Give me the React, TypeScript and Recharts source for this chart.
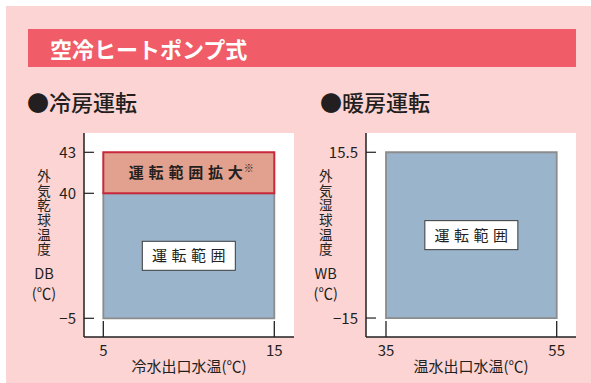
import React from 'react';
import { ComposedChart, XAxis, YAxis, CartesianGrid, ReferenceArea, Scatter } from 'recharts';

// 空冷ヒートポンプ式 運転範囲図

const FONT = '"Noto Sans CJK JP", "Noto Sans", sans-serif';
const INK = '#231f20';
const PINK = '#fcd4d4';
const HEADER = '#f05d69';
const BLUE = '#9ab4cb';
const SALMON = '#e2a08e';
const RED = '#c8283c';
const EDGE = '#8c8c8c';

// 冷房運転
const coolWaterRange = [5, 15]; // 冷水出口水温
const coolAirRange = [-5, 40]; // 外気乾球温度 DB
const coolAirExtended = [40, 43]; // 運転範囲拡大
const coolXTicks = [5, 15];
const coolYTicks = [-5, 40, 43];

// 暖房運転
const heatWaterRange = [35, 55]; // 温水出口水温
const heatAirRange = [-15, 15.5]; // 外気湿球温度 WB
const heatXTicks = [35, 55];
const heatYTicks = [-15, 15.5];

const fmt = (v: number) => (v < 0 ? `−${Math.abs(v)}` : `${v}`);

const corners = (xs: number[], ys: number[]) => [
  { x: xs[0], y: ys[0] },
  { x: xs[1], y: ys[1] },
];

// the cooling chart has a broken y axis: 40→43 is stretched compared to -5→40
function brokenScale(knots: number[], stops: number[], range: number[] = [0, 1]): any {
  const n = knots.length;
  const frac = (v: number) => {
    let i = 0;
    while (i < n - 2 && v > knots[i + 1]) i++;
    return stops[i] + ((v - knots[i]) / (knots[i + 1] - knots[i])) * (stops[i + 1] - stops[i]);
  };
  const value = (f: number) => {
    let i = 0;
    while (i < n - 2 && f > stops[i + 1]) i++;
    return knots[i] + ((f - stops[i]) / (stops[i + 1] - stops[i])) * (knots[i + 1] - knots[i]);
  };
  const s: any = (v: number) => range[0] + frac(v) * (range[1] - range[0]);
  s.domain = (d?: number[]) => (d === undefined ? [value(0), value(1)] : s);
  s.range = (r?: number[]) => {
    if (r === undefined) return range;
    range = r;
    return s;
  };
  s.copy = () => brokenScale(knots, stops, range.slice());
  s.ticks = () => knots;
  s.invert = (px: number) => value((px - range[0]) / (range[1] - range[0]));
  return s;
}

const coolYScale = brokenScale(coolYTicks, [0.0917, 0.7044, 0.9054]);

const XTick = (props: any) => {
  const { x, y, payload } = props;
  return (
    <g>
      <line x1={x} y1={y} x2={x} y2={y - 16} stroke={INK} strokeWidth={1.3} />
      <text x={x} y={y + 18.5} textAnchor="middle" fontSize={15} fill={INK} fontFamily={FONT}>
        {fmt(payload.value)}
      </text>
    </g>
  );
};

const YTick = (props: any) => {
  const { x, y, payload } = props;
  return (
    <g>
      <line x1={x} y1={y} x2={x + 10} y2={y} stroke={INK} strokeWidth={1.2} />
      <text x={x - 8} y={y + 5.5} textAnchor="end" fontSize={15} fill={INK} fontFamily={FONT}>
        {fmt(payload.value)}
      </text>
    </g>
  );
};

const BoxLabel = (props: any) => {
  const { x, y, width, height } = props.viewBox;
  const cx = x + width / 2;
  const cy = y + height / 2;
  return (
    <g>
      <rect x={cx - 46.5} y={cy - 14.5} width={93} height={29} fill="#fff" stroke="#3a3a3a" strokeWidth={1} />
      <text x={cx + 2.25} y={cy + 5.5} textAnchor="middle" fontSize={15} letterSpacing={4.5} fill={INK} fontFamily={FONT}>
        運転範囲
      </text>
    </g>
  );
};

const ExtLabel = (props: any) => {
  const { x, y, width, height } = props.viewBox;
  const cx = x + width / 2;
  const cy = y + height / 2;
  return (
    <g fontFamily={FONT} fill={INK}>
      <text x={cx - 60} y={cy + 5.5} fontSize={15} fontWeight="bold">
        <tspan letterSpacing={4.8}>運転範囲拡</tspan>
        <tspan letterSpacing={0}>大</tspan>
      </text>
      <text x={cx + 55} y={cy - 0.5} fontSize={10}>
        ※
      </text>
    </g>
  );
};

function RangeChart({ left, data, xDomain, yDomain, yScale, xTicks, yTicks, xTitle, children }: any) {
  return (
    <div style={{ position: 'absolute', left, top: 120 }}>
      <ComposedChart width={260} height={263} data={data} margin={{ top: 13, right: 6, bottom: 0, left: 0 }}>
        <CartesianGrid fill="#fff" stroke="none" horizontal={false} vertical={false} />
        <XAxis
          type="number"
          dataKey="x"
          domain={xDomain}
          allowDataOverflow
          ticks={xTicks}
          interval={0}
          height={46}
          tickSize={0}
          tickMargin={0}
          tickLine={false}
          axisLine={{ stroke: INK, strokeWidth: 1.5 }}
          tick={<XTick />}
          label={{ value: xTitle, position: 'insideBottom', offset: 10.6, fontSize: 15, fill: INK, fontFamily: FONT }}
        />
        <YAxis
          type="number"
          dataKey="y"
          domain={yDomain}
          scale={yScale}
          allowDataOverflow
          ticks={yTicks}
          interval={0}
          width={44}
          tickSize={0}
          tickMargin={0}
          tickLine={false}
          axisLine={{ stroke: INK, strokeWidth: 1.5 }}
          tick={<YTick />}
        />
        <Scatter dataKey="y" shape={() => <g />} isAnimationActive={false} />
        {children}
      </ComposedChart>
    </div>
  );
}

// vertical axis title: 外気○球温度 written top to bottom, then the unit
function YTitle({ cx, title, unit }: { cx: number; title: string; unit: string }) {
  const base: React.CSSProperties = { position: 'absolute', textAlign: 'center', color: INK };
  return (
    <>
      <div
        style={{
          ...base, left: cx - 10, width: 20, top: 169, fontSize: 13.5, lineHeight: '20px',
          writingMode: 'vertical-rl', textOrientation: 'upright', letterSpacing: 1.2,
        }}
      >
        {title}
      </div>
      <div style={{ ...base, left: cx - 20, width: 40, top: 264, fontSize: 14.5, lineHeight: '18px' }}>{unit}</div>
      <div style={{ ...base, left: cx - 20, width: 40, top: 283, fontSize: 14.5, lineHeight: '19px' }}>(℃)</div>
    </>
  );
}

export default function App() {
  return (
    <div style={{ position: 'absolute', left: 0, top: 0, width: 591, height: 383, background: '#fff', overflow: 'hidden', fontFamily: FONT }}>
      <div style={{ position: 'absolute', left: 6, top: 6, right: 0, bottom: 0, background: PINK }} />
      <div
        style={{
          position: 'absolute', left: 28, top: 29, width: 548, height: 38, background: HEADER,
          color: '#fff', fontWeight: 'bold', fontSize: 22, lineHeight: '38px', paddingLeft: 22, boxSizing: 'border-box',
        }}
      >
        空冷ヒートポンプ式
      </div>
      <div style={{ position: 'absolute', left: 27, top: 89, fontSize: 22, lineHeight: '24px', fontWeight: 500, color: INK }}>●冷房運転</div>
      <div style={{ position: 'absolute', left: 320, top: 89, fontSize: 22, lineHeight: '24px', fontWeight: 500, color: INK }}>●暖房運転</div>

      <YTitle cx={44} title="外気乾球温度" unit="DB" />
      <YTitle cx={325.7} title="外気湿球温度" unit="WB" />

      <RangeChart
        left={40}
        data={corners(coolWaterRange, coolAirRange)}
        xDomain={[3.871, 16.152]}
        yDomain={coolYScale.domain()}
        yScale={coolYScale}
        xTicks={coolXTicks}
        yTicks={coolYTicks}
        xTitle="冷水出口水温(℃)"
      >
        <ReferenceArea
          x1={coolWaterRange[0]} x2={coolWaterRange[1]} y1={coolAirRange[0]} y2={coolAirRange[1]}
          fill={BLUE} fillOpacity={1} stroke={EDGE} strokeWidth={1.8} ifOverflow="visible"
          label={<BoxLabel />}
        />
        <ReferenceArea
          x1={coolWaterRange[0]} x2={coolWaterRange[1]} y1={coolAirExtended[0]} y2={coolAirExtended[1]}
          fill={SALMON} fillOpacity={1} stroke={RED} strokeWidth={2} ifOverflow="visible"
          label={<ExtLabel />}
        />
      </RangeChart>

      <RangeChart
        left={322}
        data={corners(heatWaterRange, heatAirRange)}
        xDomain={[32.657, 57.261]}
        yDomain={[-18.49, 19.046]}
        yScale="linear"
        xTicks={heatXTicks}
        yTicks={heatYTicks}
        xTitle="温水出口水温(℃)"
      >
        <ReferenceArea
          x1={heatWaterRange[0]} x2={heatWaterRange[1]} y1={heatAirRange[0]} y2={heatAirRange[1]}
          fill={BLUE} fillOpacity={1} stroke={EDGE} strokeWidth={1.8} ifOverflow="visible"
          label={<BoxLabel />}
        />
      </RangeChart>
    </div>
  );
}
